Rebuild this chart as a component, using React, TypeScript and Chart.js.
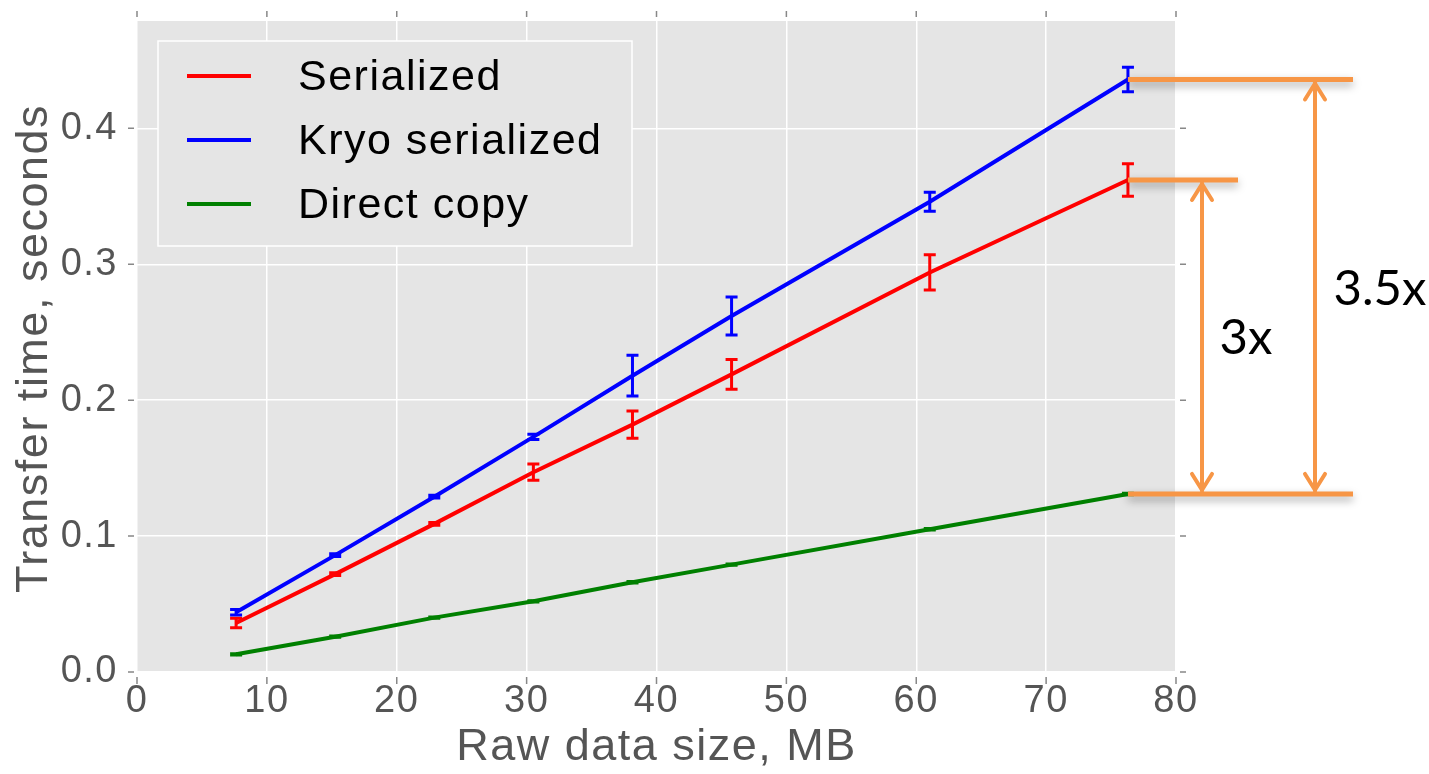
import React, { useEffect, useRef } from "react";
import { Chart, registerables } from "chart.js";
Chart.register(...registerables);

// ---- data ----
const sizesMB = [7.63, 15.26, 22.89, 30.52, 38.15, 45.78, 61.04, 76.3];
const serialized = [0.036, 0.072, 0.109, 0.147, 0.182, 0.219, 0.294, 0.362];
const serializedErr = [0.0035, 0.001, 0.001, 0.006, 0.01, 0.011, 0.013, 0.012];
const kryo = [0.044, 0.086, 0.129, 0.173, 0.218, 0.262, 0.346, 0.436];
const kryoErr = [0.002, 0.001, 0.001, 0.002, 0.015, 0.014, 0.007, 0.009];
const direct = [0.013, 0.026, 0.04, 0.052, 0.066, 0.079, 0.105, 0.131];
const directErr = [0.0005, 0.0005, 0.0005, 0.0005, 0.0005, 0.0005, 0.0005, 0.0005];
const seriesLabels = ["Serialized", "Kryo serialized", "Direct copy"];
const seriesColors = ["#ff0000", "#0000ff", "#008000"];
const xTitle = "Raw data size, MB";
const yTitle = "Transfer time, seconds";
const ratioLabels = ["3x", "3.5x"];

const values = [serialized, kryo, direct];
const errors = [serializedErr, kryoErr, directErr];

const FONT = "'Liberation Sans', Arial, sans-serif";
const ORANGE = "#f79646";

export default function App() {
  const ref = useRef<HTMLCanvasElement | null>(null);

  useEffect(() => {
    const canvas = ref.current;
    if (!canvas) return;

    const bgPlugin = {
      id: "bg",
      beforeDraw(chart: any) {
        const { ctx, chartArea: a } = chart;
        (ctx as any).letterSpacing = "1.5px";
        ctx.save();
        ctx.fillStyle = "#e5e5e5";
        ctx.fillRect(a.left, a.top, a.right - a.left, a.bottom - a.top);
        ctx.restore();
      },
    };

    const decorPlugin = {
      id: "decor",
      afterDatasetsDraw(chart: any) {
        const { ctx, chartArea: a, scales } = chart;
        const xs = scales.x;
        const ys = scales.y;
        ctx.save();
        // error bars
        values.forEach((vals, i) => {
          ctx.strokeStyle = seriesColors[i];
          ctx.lineWidth = 3;
          vals.forEach((v, j) => {
            const x = xs.getPixelForValue(sizesMB[j]);
            const y1 = ys.getPixelForValue(v - errors[i][j]);
            const y2 = ys.getPixelForValue(v + errors[i][j]);
            ctx.beginPath();
            ctx.moveTo(x, y1);
            ctx.lineTo(x, y2);
            ctx.moveTo(x - 6, y1);
            ctx.lineTo(x + 6, y1);
            ctx.moveTo(x - 6, y2);
            ctx.lineTo(x + 6, y2);
            ctx.stroke();
          });
        });

        // legend
        const lx = a.left + 21, ly = a.top + 20, lw = 474, lh = 205;
        ctx.fillStyle = "#e5e5e5";
        ctx.fillRect(lx, ly, lw, lh);
        ctx.strokeStyle = "#ffffff";
        ctx.lineWidth = 1.5;
        ctx.strokeRect(lx, ly, lw, lh);
        seriesLabels.forEach((lab, i) => {
          const yy = ly + 35 + i * 64;
          ctx.strokeStyle = seriesColors[i];
          ctx.lineWidth = 4;
          ctx.beginPath();
          ctx.moveTo(lx + 29, yy);
          ctx.lineTo(lx + 93, yy);
          ctx.stroke();
          ctx.fillStyle = "#000";
          ctx.font = `43px ${FONT}`;
          (ctx as any).letterSpacing = "1.5px";
          ctx.textBaseline = "middle";
          ctx.textAlign = "left";
          ctx.fillText(lab, lx + 140, yy + 2);
        });
        ctx.restore();
      },
      afterDraw(chart: any) {
        const { ctx, chartArea: a, scales } = chart;
        const xs = scales.x;
        const ys = scales.y;
        ctx.save();
        // outward tick marks
        ctx.strokeStyle = "#888";
        ctx.lineWidth = 1.5;
        xs.ticks.forEach((t: any) => {
          const x = xs.getPixelForValue(t.value);
          ctx.beginPath();
          ctx.moveTo(x, a.bottom + 5);
          ctx.lineTo(x, a.bottom + 12);
          ctx.moveTo(x, a.top - 10);
          ctx.lineTo(x, a.top - 4);
          ctx.stroke();
        });
        ys.ticks.forEach((t: any) => {
          const y = ys.getPixelForValue(t.value);
          ctx.beginPath();
          ctx.moveTo(a.left - 9, y);
          ctx.lineTo(a.left - 3, y);
          ctx.moveTo(a.right + 4, y);
          ctx.lineTo(a.right + 10, y);
          ctx.stroke();
        });

        // axis titles
        ctx.fillStyle = "#555555";
        ctx.font = `45px ${FONT}`;
        (ctx as any).letterSpacing = "1.5px";
        ctx.textAlign = "center";
        ctx.textBaseline = "middle";
        ctx.fillText(xTitle, (a.left + a.right) / 2, 748);
        ctx.save();
        ctx.translate(35, (a.top + a.bottom) / 2 + 2);
        ctx.rotate(-Math.PI / 2);
        ctx.fillText(yTitle, 0, 0);
        ctx.restore();

        // ratio annotations
        const last = sizesMB.length - 1;
        const x0 = xs.getPixelForValue(sizesMB[last]);
        const yK = ys.getPixelForValue(kryo[last]);
        const yS = ys.getPixelForValue(serialized[last]);
        const yD = ys.getPixelForValue(direct[last]);
        const R = a.right;
        ctx.strokeStyle = ORANGE;
        ctx.lineWidth = 5;
        ctx.lineCap = "butt";
        ctx.save();
        ctx.shadowColor = "rgba(0,0,0,0.35)";
        ctx.shadowBlur = 8;
        ctx.shadowOffsetY = 4;
        [
          [yK, R + 177],
          [yS, R + 62],
          [yD, R + 177],
        ].forEach(([y, xe]) => {
          ctx.beginPath();
          ctx.moveTo(x0, y);
          ctx.lineTo(xe, y);
          ctx.stroke();
        });
        ctx.restore();

        const arrow = (ax: number, yt: number, yb: number) => {
          ctx.lineWidth = 4;
          ctx.lineCap = "round";
          ctx.lineJoin = "round";
          ctx.beginPath();
          ctx.moveTo(ax, yt + 3);
          ctx.lineTo(ax, yb - 3);
          ctx.stroke();
          ctx.beginPath();
          ctx.moveTo(ax - 10, yt + 20);
          ctx.lineTo(ax, yt + 4);
          ctx.lineTo(ax + 10, yt + 20);
          ctx.moveTo(ax - 10, yb - 20);
          ctx.lineTo(ax, yb - 4);
          ctx.lineTo(ax + 10, yb - 20);
          ctx.stroke();
        };
        arrow(R + 26, yS, yD);
        arrow(R + 139, yK, yD);

        ctx.fillStyle = "#000";
        (ctx as any).letterSpacing = "0px";
        ctx.font = "49px Lato, 'Open Sans', sans-serif";
        ctx.textAlign = "center";
        ctx.textBaseline = "middle";
        ctx.fillText(ratioLabels[0], R + 70, 338);
        ctx.fillText(ratioLabels[1], R + 204, 289);
        ctx.restore();
      },
    };

    const chart = new Chart(canvas, {
      type: "line",
      data: {
        datasets: values.map((vals, i) => ({
          label: seriesLabels[i],
          data: vals.map((v, j) => ({ x: sizesMB[j], y: v })),
          borderColor: seriesColors[i],
          backgroundColor: seriesColors[i],
          borderWidth: 4,
          pointRadius: 0,
          tension: 0,
          fill: false,
        })),
      },
      options: {
        animation: false,
        responsive: false,
        devicePixelRatio: 1,
        layout: { padding: { top: 21, right: 253, left: 0, bottom: 0 } },
        plugins: {
          legend: { display: false },
          tooltip: { enabled: false },
          title: { display: false },
        },
        scales: {
          x: {
            type: "linear",
            min: 0,
            max: 80,
            border: { display: false },
            grid: { color: "#ffffff", lineWidth: 1.5, drawTicks: false },
            ticks: {
              stepSize: 10,
              includeBounds: false,
              padding: 7,
              color: "#555555",
              font: { family: FONT, size: 38 },
              maxRotation: 0,
            },
            afterFit: (s: any) => {
              s.height = 102;
              s.paddingLeft = 0;
              s.paddingRight = 0;
            },
          },
          y: {
            type: "linear",
            min: 0,
            max: 0.479,
            border: { display: false },
            grid: { color: "#ffffff", lineWidth: 1.5, drawTicks: false },
            ticks: {
              stepSize: 0.1,
              includeBounds: false,
              padding: 19,
              color: "#555555",
              font: { family: FONT, size: 38 },
              callback: (v: any) => Number(v).toFixed(1),
            },
            afterFit: (s: any) => {
              s.width = 137;
              s.paddingTop = 0;
              s.paddingBottom = 0;
            },
          },
        },
      },
      plugins: [bgPlugin, decorPlugin],
    } as any);

    return () => chart.destroy();
  }, []);

  return (
    <div style={{ position: "fixed", left: 0, top: 0, width: 1429, height: 774, background: "#fff" }}>
      <canvas ref={ref} width={1429} height={774} style={{ display: "block" }} />
    </div>
  );
}
